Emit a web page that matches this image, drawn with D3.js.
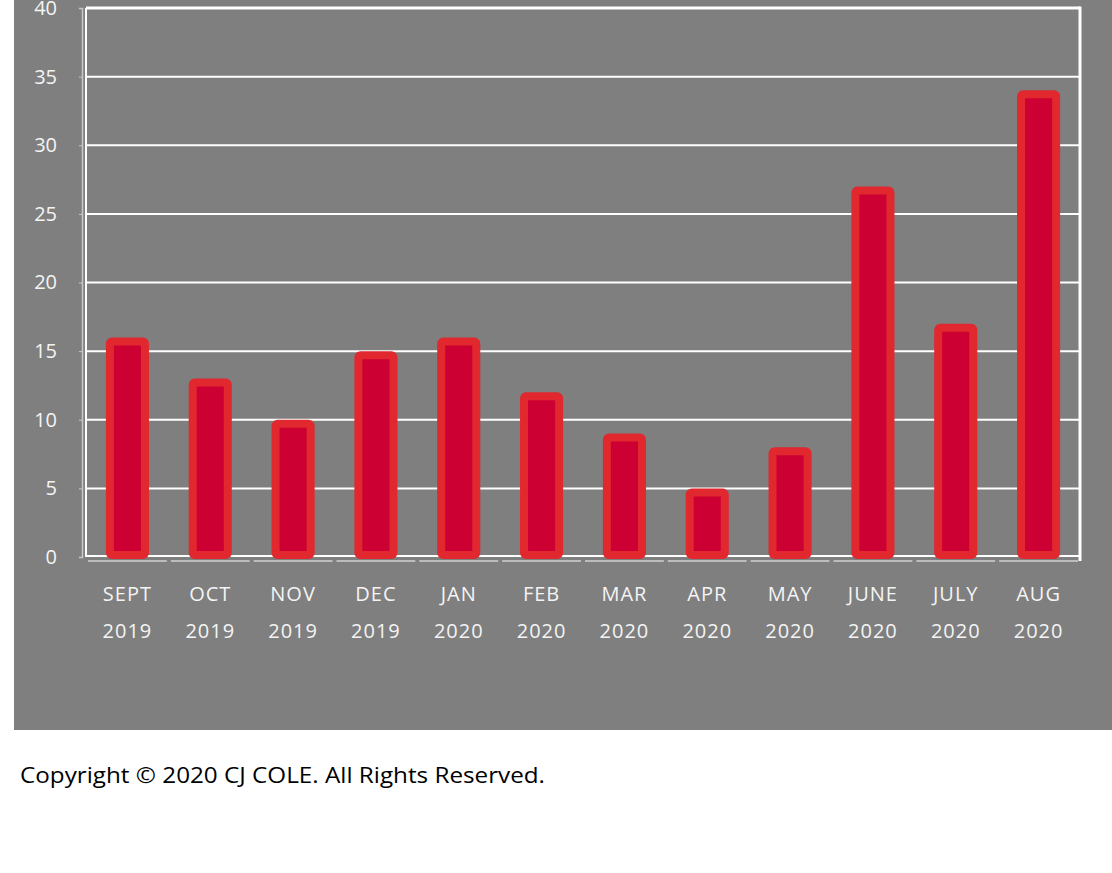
<!DOCTYPE html>
<html>
<head>
<meta charset="utf-8">
<script src="https://cdn.jsdelivr.net/npm/d3@7"></script>
<style>
  body { margin: 0; background: #fff; }
  svg { display: block; }
</style>
</head>
<body>
<div id="chart"></div>
<script>
// data
const months = ['SEPT', 'OCT', 'NOV', 'DEC', 'JAN', 'FEB', 'MAR', 'APR', 'MAY', 'JUNE', 'JULY', 'AUG']
const years = ['2019', '2019', '2019', '2019', '2020', '2020', '2020', '2020', '2020', '2020', '2020', '2020']
const counts = [16, 13, 10, 15, 16, 12, 9, 5, 8, 27, 17, 34]
const yTicks = [0, 5, 10, 15, 20, 25, 30, 35, 40]

const width = 1112,
  height = 873
const plotLeft = 86, plotRight = 1080, plotTop = 8, plotBottom = 557

let svg = d3.select('#chart')
  .append('svg')
  .attr('width', width)
  .attr('height', height)

// gray panel
svg.append('rect')
  .attr('x', 14).attr('y', -5)
  .attr('width', width).attr('height', 735)
  .attr('fill', '#7f7f7f')

const xScale = d3.scaleBand()
  .domain(months)
  .range([plotLeft, plotRight])
  .paddingInner(0.48)
  .paddingOuter(0.24)

const yScale = d3.scaleLinear()
  .domain([0, 40])
  .range([plotBottom, plotTop])

// grid lines
svg.selectAll('line.grid')
  .data(yTicks.filter(d => d > 0))
  .enter()
  .append('line')
  .attr('class', 'grid')
  .attr('x1', plotLeft).attr('x2', plotRight)
  .attr('y1', d => yScale(d)).attr('y2', d => yScale(d))
  .attr('stroke', '#fff')
  .attr('stroke-width', d => d === 40 ? 3 : 2)

// right border
svg.append('line')
  .attr('x1', plotRight).attr('x2', plotRight)
  .attr('y1', plotTop - 1.5).attr('y2', plotBottom + 4)
  .attr('stroke', '#fff').attr('stroke-width', 3)

// left axis (gray line + small ticks)
let yAxisGroup = svg.append('g')
  .attr('transform', `translate(${plotLeft - 4}, 0)`)
  .call(d3.axisLeft(yScale).tickValues(yTicks).tickSize(3).tickPadding(22))
yAxisGroup.select('.domain').attr('stroke', '#c8c8c8').attr('stroke-width', 1.5)
yAxisGroup.selectAll('.tick line').attr('stroke', '#c8c8c8')
yAxisGroup.selectAll('.tick text')
  .attr('fill', '#f4f4f4')
  .style('font-family', '"Open Sans", sans-serif')
  .style('font-size', '20px')

svg.append('line')
  .attr('x1', plotLeft).attr('x2', plotLeft)
  .attr('y1', plotTop).attr('y2', plotBottom)
  .attr('stroke', '#fff').attr('stroke-width', 2)

// bottom base lines
svg.append('line')
  .attr('x1', plotLeft).attr('x2', plotRight)
  .attr('y1', plotBottom - 1).attr('y2', plotBottom - 1)
  .attr('stroke', '#fff').attr('stroke-width', 2)

svg.selectAll('line.base')
  .data(months)
  .enter()
  .append('line')
  .attr('class', 'base')
  .attr('x1', d => xScale(d) - xScale.step() * 0.24 + 2)
  .attr('x2', d => xScale(d) + xScale.step() * 0.76 - 2)
  .attr('y1', plotBottom + 4).attr('y2', plotBottom + 4)
  .attr('stroke', '#d0d0d0').attr('stroke-width', 1.5)

// bars
svg.selectAll('rect.bar')
  .data(counts)
  .enter()
  .append('rect')
  .attr('class', 'bar')
  .attr('x', (d, i) => xScale(months[i]) + 4)
  .attr('width', xScale.bandwidth() - 8)
  .attr('y', d => yScale(d) + 4)
  .attr('height', d => yScale(0) - yScale(d) - 6)
  .attr('rx', 2)
  .attr('fill', '#cc0033')
  .attr('stroke', '#e0282e')
  .attr('stroke-width', 8)

// category labels
let labels = svg.selectAll('text.cat')
  .data(months)
  .enter()
  .append('text')
  .attr('class', 'cat')
  .attr('x', d => xScale(d) + xScale.bandwidth() / 2)
  .attr('fill', '#f4f4f4')
  .attr('text-anchor', 'middle')
  .style('font-family', '"Open Sans", sans-serif')
  .style('font-size', '20px')
  .style('letter-spacing', '1px')
labels.append('tspan')
  .attr('x', d => xScale(d) + xScale.bandwidth() / 2)
  .attr('y', 601)
  .text(d => d)
labels.append('tspan')
  .attr('x', d => xScale(d) + xScale.bandwidth() / 2)
  .attr('y', 638)
  .text((d, i) => years[i])

// copyright
svg.append('text')
  .attr('x', 20).attr('y', 783)
  .attr('fill', '#000')
  .style('font-family', '"Open Sans", sans-serif')
  .style('font-size', '22px')
  .style('font-weight', 500)
  .attr('textLength', 525)
  .attr('lengthAdjust', 'spacingAndGlyphs')
  .text('Copyright © 2020 CJ COLE. All Rights Reserved.')
</script>
</body>
</html>
